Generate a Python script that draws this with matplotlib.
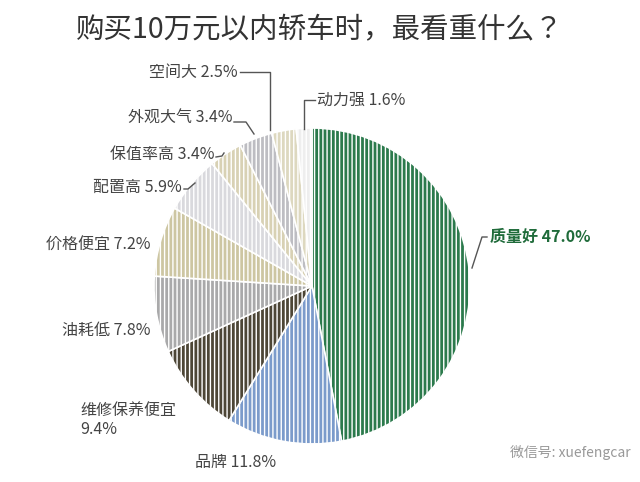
import matplotlib
matplotlib.use("Agg")
import matplotlib.pyplot as plt
from matplotlib import font_manager as fm

names = {f.name for f in fm.fontManager.ttflist}
cjk = [n for n in ["Noto Sans CJK SC", "Noto Sans CJK JP", "Noto Sans CJK TC", "Noto Sans CJK KR", "Noto Sans SC"] if n in names]
if not cjk:
    cjk = sorted(n for n in names if "CJK" in n)
plt.rcParams['font.family'] = cjk + ['DejaVu Sans']
plt.rcParams['hatch.linewidth'] = 1.0
plt.rcParams['hatch.color'] = 'white'

categories = ["质量好", "品牌", "维修保养便宜", "油耗低", "价格便宜", "配置高", "保值率高", "外观大气", "空间大", "动力强"]
values = [47.0, 11.8, 9.4, 7.8, 7.2, 5.9, 3.4, 3.4, 2.5, 1.6]
colors = ["#2b7a4c", "#7b9bcb", "#4d4636", "#a9a9aa", "#cdc6a2", "#d9d9dd", "#d8d1b4", "#bdbdc2", "#ddd8bf", "#eeeeee"]

fig = plt.figure(figsize=(6.4, 4.82), dpi=100)
W, H = 640, 482
cx, cy, R = 312, 286, 158
ax = fig.add_axes([(cx - R) / W, (H - cy - R) / H, 2 * R / W, 2 * R / H])
wedges, _ = ax.pie(values, colors=colors, startangle=90, counterclock=False,
                   wedgeprops=dict(edgecolor='white', linewidth=1.2, hatch='||||'))
ax.set_xlim(-1, 1); ax.set_ylim(-1, 1)
ax.set_aspect('equal')

def d(px, py):
    return ((px - cx) / R, (cy - py) / R)

labels = [
    (f"{categories[0]} {values[0]:.1f}%", (490, 237), 'left', '#1f6b3a', 'bold', [(487, 237), (482, 237), (472, 268)]),
    (f"{categories[1]} {values[1]:.1f}%", (195, 462), 'left', '#444444', 'normal', None),
    (f"{categories[2]}\n{values[2]:.1f}%", (80, 420), 'left', '#444444', 'normal', None),
    (f"{categories[3]} {values[3]:.1f}%", (150, 330), 'right', '#444444', 'normal', None),
    (f"{categories[4]} {values[4]:.1f}%", (150, 245), 'right', '#444444', 'normal', None),
    (f"{categories[5]} {values[5]:.1f}%", (182, 187), 'right', '#444444', 'normal', [(184, 189), (188, 189), (195, 183)]),
    (f"{categories[6]} {values[6]:.1f}%", (214, 155), 'right', '#444444', 'normal', [(216, 157), (222, 156), (224, 153)]),
    (f"{categories[7]} {values[7]:.1f}%", (232, 118), 'right', '#444444', 'normal', [(234, 122), (246, 122), (254, 134)]),
    (f"{categories[8]} {values[8]:.1f}%", (238, 72), 'right', '#444444', 'normal', [(240, 72), (270, 72), (270, 130)]),
    (f"{categories[9]} {values[9]:.1f}%", (317, 100), 'left', '#444444', 'normal', [(315, 100), (304, 100), (304, 129)]),
]
for txt, (px, py), ha, col, wt, pts in labels:
    x, y = d(px, py)
    ax.text(x, y, txt, ha=ha, va='center', fontsize=11.5, color=col, fontweight=wt,
            linespacing=1.2)
    if pts:
        xs, ys = zip(*[d(a, b) for a, b in pts])
        ax.plot(xs, ys, color='#555555', lw=1, clip_on=False)

fig.text(0.5, 1 - 30 / H, "购买10万元以内轿车时，最看重什么？", ha='center', va='center',
         fontsize=20.5, color='#333333')
fig.text(570 / W, 1 - 452 / H, "微信号: xuefengcar", ha='center', va='center',
         fontsize=10, color='#999999')

fig.savefig("out.png", dpi=100)
